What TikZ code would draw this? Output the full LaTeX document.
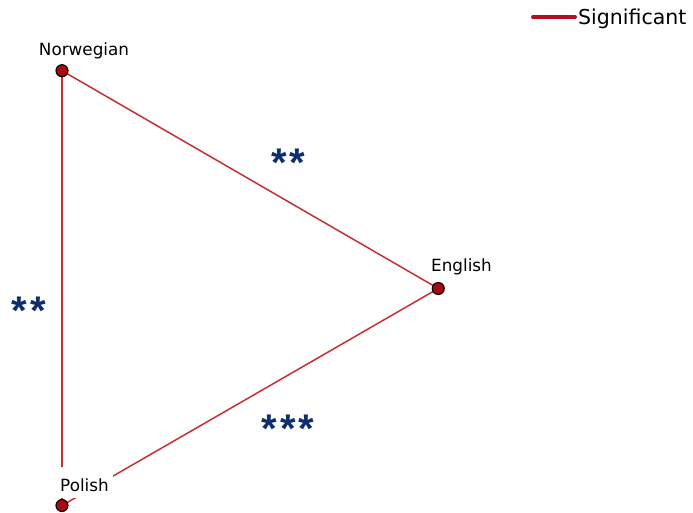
\documentclass[tikz,border=0pt]{standalone}
\usepackage{fontspec}
\setmainfont{DejaVu Sans}
\newfontfamily\starfont{Liberation Sans}
\definecolor{edgered}{RGB}{196,48,52}
\definecolor{dotred}{RGB}{168,8,16}
\definecolor{legendred}{RGB}{178,18,30}
\definecolor{starblue}{RGB}{14,46,110}
\tikzset{
  edge/.style={draw=edgered, line width=1.5pt},
  vertex/.style={circle, fill=dotred, draw=black, line width=1.1pt, minimum size=12pt, inner sep=0pt},
  lbl/.style={fill=white, inner xsep=4pt, inner ysep=3pt, text height=22pt, text depth=3.5pt,
              font=\fontsize{16.8}{20}\selectfont},
  stars/.style={text=starblue, inner sep=0pt, anchor=base, font=\starfont\bfseries\fontsize{40}{46}\selectfont},
}
\begin{document}
\begin{tikzpicture}[x=1pt,y=-1pt]
  \useasboundingbox[fill=white] (0,0) rectangle (693,513);

  % vertex positions
  \coordinate (nor) at (62,70.7);
  \coordinate (eng) at (438.3,288.5);
  \coordinate (pol) at (62,505.5);

  % significant edges
  \draw[edge] (nor) -- (eng);
  \draw[edge] (nor) -- (pol);
  \draw[edge] (pol) -- (eng);

  % vertex labels (white boxes sit over the edges)
  \node[lbl] (lnor) at (84,46.7) {Norwegian};
  \node[lbl] (leng) at (461.5,262.7) {English};
  \node[lbl] (lpol) at (84.5,482.7) {Polish};

  % vertices
  \node[vertex] (vnor) at (nor) {};
  \node[vertex] (veng) at (eng) {};
  \node[vertex] (vpol) at (pol) {};

  % significance marks
  \node[stars] (s1) at (288.5,177) {*\kern3pt*};
  \node[stars] (s2) at (29,324) {*\kern3pt*};
  \node[stars] (s3) at (288,442) {*\kern3pt*\kern3pt*};

  % legend
  \coordinate (lga) at (533,17);
  \coordinate (lgb) at (575,17);
  \draw[legendred, line width=4pt, line cap=round] (lga) -- (lgb);
  \node[anchor=west, inner sep=0pt, font=\fontsize{20.5}{24}\selectfont] (lgt) at (578,19) {Significant};
\end{tikzpicture}
\end{document}
